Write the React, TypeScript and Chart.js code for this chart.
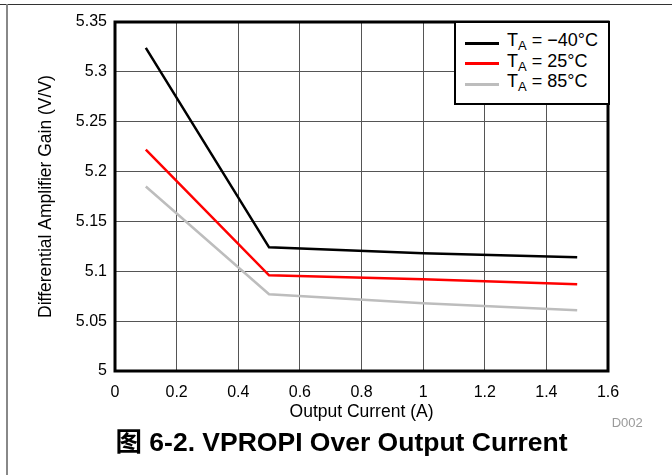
import { useEffect, useRef } from 'react';
import { Chart, registerables } from 'chart.js';

Chart.register(...registerables);

// Output current (A) where each curve was sampled
const currents = [0.1, 0.5, 1.0, 1.5];

// Differential amplifier gain (V/V) per ambient temperature
const gainMinus40 = [5.324, 5.124, 5.118, 5.114];
const gain25 = [5.222, 5.096, 5.092, 5.087];
const gain85 = [5.185, 5.077, 5.068, 5.061];

const seriesLabels = ['TA = −40°C', 'TA = 25°C', 'TA = 85°C'];
const seriesTemps = ['−40°C', '25°C', '85°C'];
const seriesColors = ['#000000', '#ff0000', '#bdbdbd'];

const FONT = '"Liberation Sans", Arial, Helvetica, sans-serif';

// trims trailing zeros, e.g. 5.30 -> 5.3
const fmt = (v: number | string) => String(Math.round(Number(v) * 100) / 100);

// thick black frame around the plot area
const framePlugin = {
  id: 'frame',
  afterDatasetsDraw(chart: Chart) {
    const { ctx, chartArea } = chart;
    ctx.save();
    ctx.strokeStyle = '#000';
    ctx.lineWidth = 3;
    ctx.strokeRect(chartArea.left, chartArea.top, chartArea.right - chartArea.left, chartArea.bottom - chartArea.top);
    ctx.restore();
  },
};

const App = () => {
  const chartRef = useRef<HTMLCanvasElement | null>(null);
  const chartInstance = useRef<Chart | null>(null);

  useEffect(() => {
    if (!chartRef.current) return;
    const ctx = chartRef.current.getContext('2d');
    if (!ctx) return;

    if (chartInstance.current) {
      chartInstance.current.destroy();
    }

    const series = [gainMinus40, gain25, gain85];

    chartInstance.current = new Chart(ctx, {
      type: 'line',
      data: {
        datasets: series.map((values, i) => ({
          label: seriesLabels[i],
          data: values.map((v, j) => ({ x: currents[j], y: v })),
          borderColor: seriesColors[i],
          borderWidth: 2.5,
          pointRadius: 0,
          tension: 0,
          fill: false,
        })),
      },
      options: {
        responsive: false,
        animation: false,
        layout: {
          padding: { left: 0, top: 22, right: 64, bottom: 7 },
        },
        plugins: {
          legend: { display: false },
          tooltip: { enabled: false },
        },
        scales: {
          x: {
            type: 'linear',
            min: 0,
            max: 1.6,
            ticks: {
              stepSize: 0.2,
              padding: 12,
              color: '#000',
              font: { family: FONT, size: 16 },
              callback: (v) => fmt(v),
            },
            grid: { color: '#555', lineWidth: 1, drawTicks: false },
            border: { display: false },
            title: {
              display: true,
              text: 'Output Current (A)',
              color: '#000',
              font: { family: FONT, size: 17.5 },
              padding: { top: 0, bottom: 0 },
            },
            afterFit(scale: any) {
              scale.height = 52;
            },
          },
          y: {
            type: 'linear',
            min: 5,
            max: 5.35,
            ticks: {
              stepSize: 0.05,
              padding: 8,
              color: '#000',
              font: { family: FONT, size: 16 },
              callback: (v) => fmt(v),
            },
            grid: { color: '#555', lineWidth: 1, drawTicks: false },
            border: { display: false },
            title: {
              display: true,
              text: 'Differential Amplifier Gain (V/V)',
              color: '#000',
              font: { family: FONT, size: 17.5 },
              padding: { top: 36, bottom: 0 },
            },
            afterFit(scale: any) {
              scale.width = 115;
            },
          },
        },
      },
      plugins: [framePlugin],
    });

    return () => {
      if (chartInstance.current) {
        chartInstance.current.destroy();
        chartInstance.current = null;
      }
    };
  }, []);

  return (
    <div
      style={{
        position: 'fixed',
        left: 0,
        top: 0,
        width: 672,
        height: 475,
        background: '#fff',
        overflow: 'hidden',
        fontFamily: FONT,
      }}
    >
      <div style={{ position: 'absolute', left: 0, top: 3.5, width: 672, height: 1.2, background: '#333' }} />
      <div style={{ position: 'absolute', left: 6, top: 4, width: 2, height: 471, background: '#888' }} />

      <canvas ref={chartRef} width={672} height={430} style={{ position: 'absolute', left: 0, top: 0 }} />

      {/* legend box */}
      <div
        style={{
          position: 'absolute',
          left: 454,
          top: 21,
          width: 156,
          height: 84,
          boxSizing: 'border-box',
          border: '2px solid #000',
          background: '#fff',
        }}
      />
      {seriesTemps.map((temp, i) => {
        const lineY = 43.3 + 20.5 * i;
        return (
          <div key={temp}>
            <div
              style={{
                position: 'absolute',
                left: 465,
                top: lineY - 1.5,
                width: 34,
                height: 3,
                background: seriesColors[i],
              }}
            />
            <div
              style={{
                position: 'absolute',
                left: 507,
                top: lineY - 13,
                height: 20,
                lineHeight: '20px',
                fontSize: 18,
                color: '#000',
                whiteSpace: 'nowrap',
              }}
            >
              T<span style={{ fontSize: 13, verticalAlign: '-4px', lineHeight: 0 }}>A</span> = {temp}
            </div>
          </div>
        );
      })}

      <div
        style={{
          position: 'absolute',
          left: 611.7,
          top: 414.7,
          lineHeight: '15px',
          fontSize: 13,
          color: '#9a9a9a',
        }}
      >
        D002
      </div>

      <div
        style={{
          position: 'absolute',
          left: 0,
          top: 427,
          width: 683,
          textAlign: 'center',
          lineHeight: '30px',
          fontSize: 26.5,
          fontWeight: 'bold',
          color: '#000',
          fontFamily: '"Liberation Sans", Arial, "Noto Sans CJK SC", sans-serif',
          whiteSpace: 'nowrap',
        }}
      >
        图 6-2. VPROPI Over Output Current
      </div>
    </div>
  );
};

export default App;
